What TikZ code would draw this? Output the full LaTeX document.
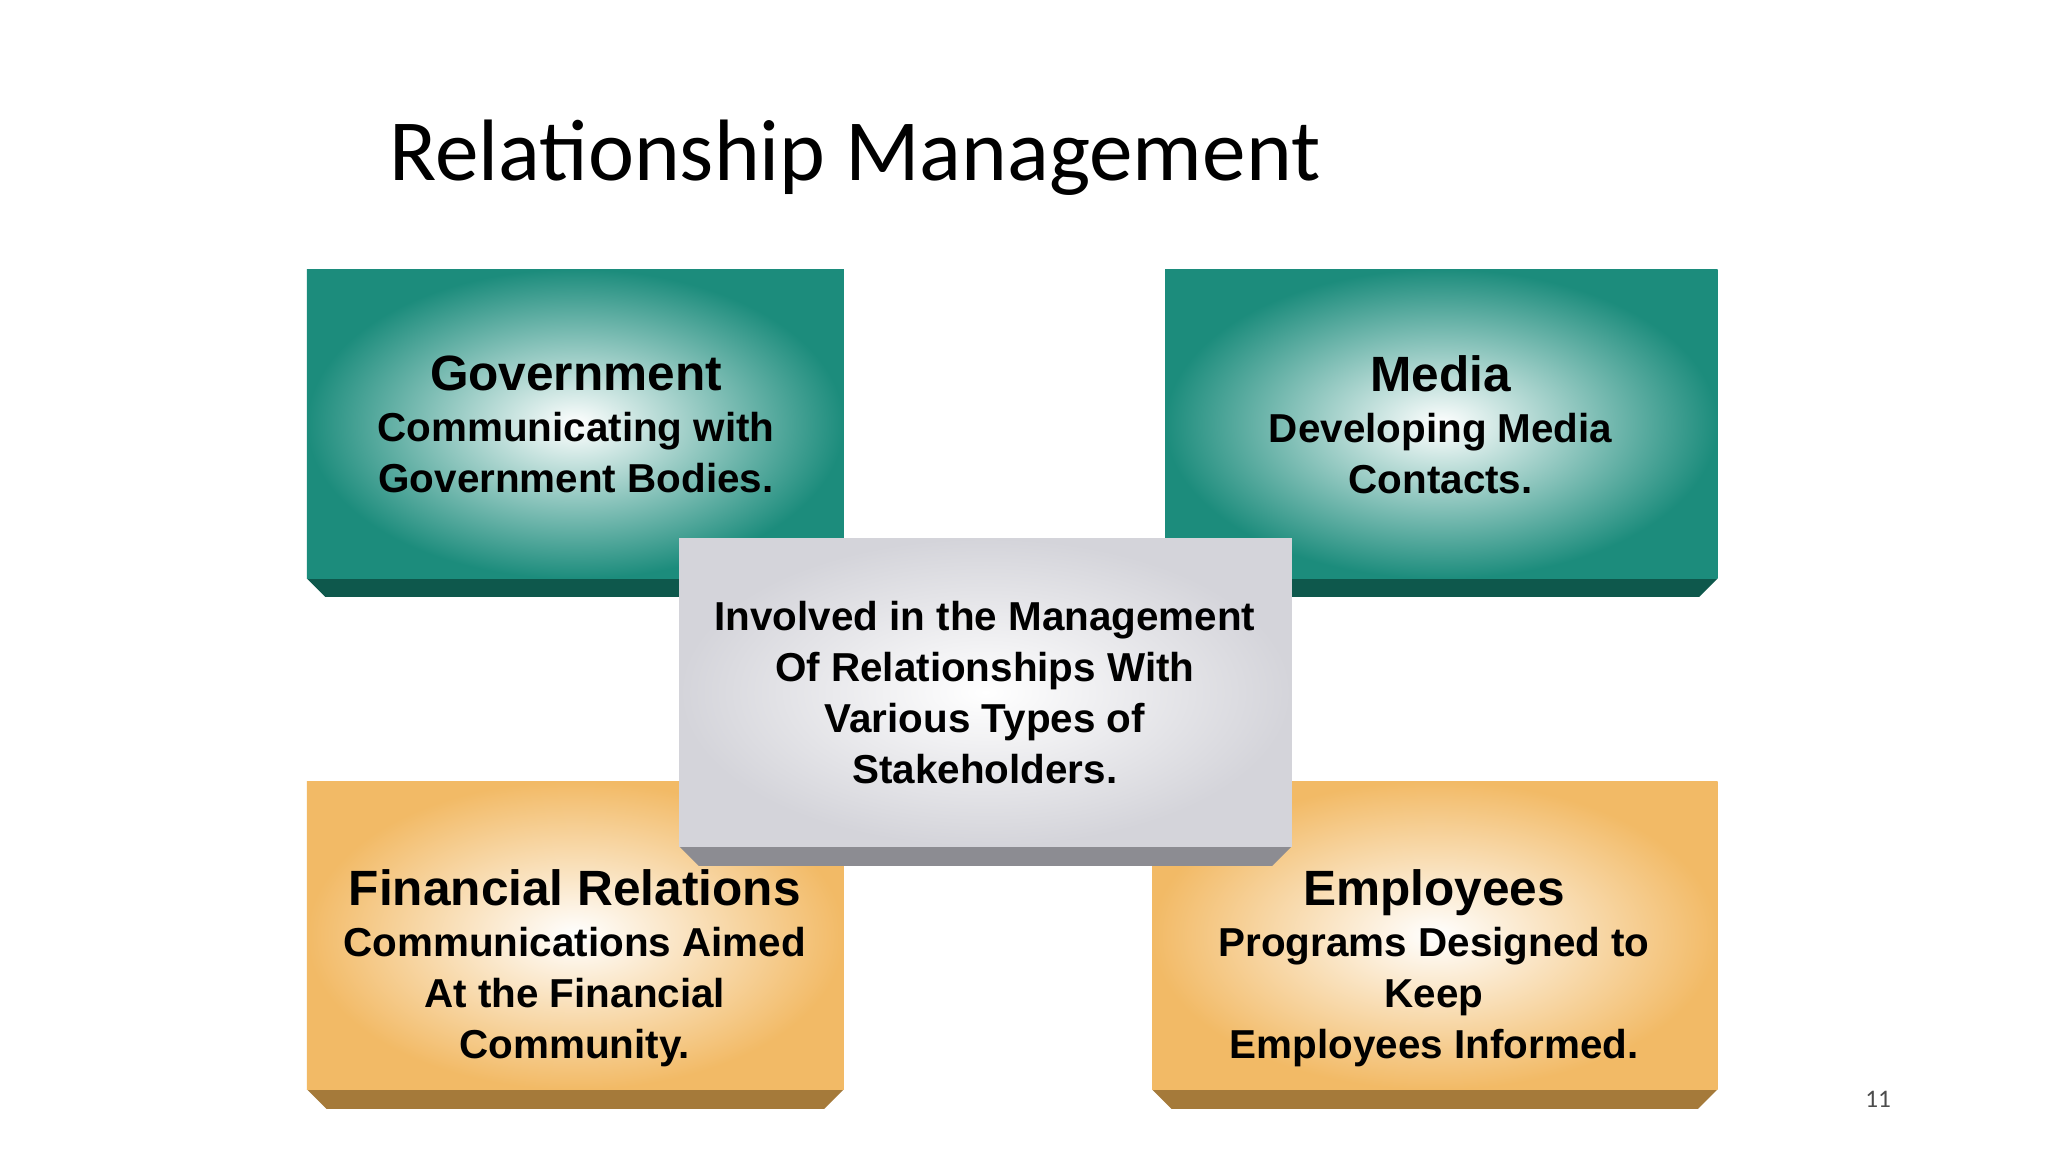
\documentclass[tikz,border=0pt]{standalone}
\usepackage{fontspec}
\setmainfont{Liberation Sans}
\newfontfamily\titlefont{Carlito}
\definecolor{teal1}{RGB}{28,140,124}
\definecolor{teal2}{RGB}{14,88,76}
\definecolor{org1}{RGB}{242,186,102}
\definecolor{org2}{RGB}{165,122,58}
\definecolor{gry1}{RGB}{212,212,218}
\definecolor{gry2}{RGB}{140,140,146}
\tikzset{
  boxtext/.style={align=center,font=\bfseries\fontsize{88}{111}\selectfont,text=black},
  head/.style={font=\bfseries\fontsize{108}{120}\selectfont}
}
\newcommand{\bbox}[7]{%
  % #1 x1, #2 x2, #3 y1, #4 y2, #5 color, #6 bevel color, #7 bevel depth
  \fill[#6] (#1,#4) -- (#2,#4) -- (#2-#7,#4+#7) -- (#1+#7,#4+#7) -- cycle;
  \shade[inner color=white,outer color=#5] (#1,#3) rectangle (#2,#4);
}
\begin{document}
\begin{tikzpicture}[x=0.1cm,y=-0.1cm]
\useasboundingbox[fill=white] (0,0) rectangle (1568,882);
\node[anchor=base west,inner sep=0,font=\titlefont\fontsize{190}{200}\selectfont] (title) at (298,138) {Relationship Management};
\bbox{235}{646}{206}{443}{teal1}{teal2}{14}
\bbox{892}{1315}{206}{443}{teal1}{teal2}{14}
\bbox{235}{646}{598}{834}{org1}{org2}{15}
\bbox{882}{1315}{598}{834}{org1}{org2}{15}
\bbox{520}{989}{412}{648}{gry1}{gry2}{15}
\node[boxtext] (gov) at (441,325) {{\fontsize{108}{111}\selectfont Government}\\Communicating with\\Government Bodies.};
\node[boxtext] (media) at (1103,325) {{\fontsize{108}{111}\selectfont Media}\\Developing Media\\Contacts.};
\node[boxtext] (center) at (754,530) {Involved in the Management\\Of Relationships With\\Various Types of\\Stakeholders.};
\node[boxtext] (fin) at (440,741) {{\fontsize{108}{111}\selectfont Financial Relations}\\Communications Aimed\\At the Financial\\Community.};
\node[boxtext] (emp) at (1098,741) {{\fontsize{108}{111}\selectfont Employees}\\Programs Designed to\\Keep\\Employees Informed.};
\node[font=\titlefont\fontsize{55}{60}\selectfont,text=black!70] (pg) at (1438,842) {11};
\end{tikzpicture}
\end{document}
